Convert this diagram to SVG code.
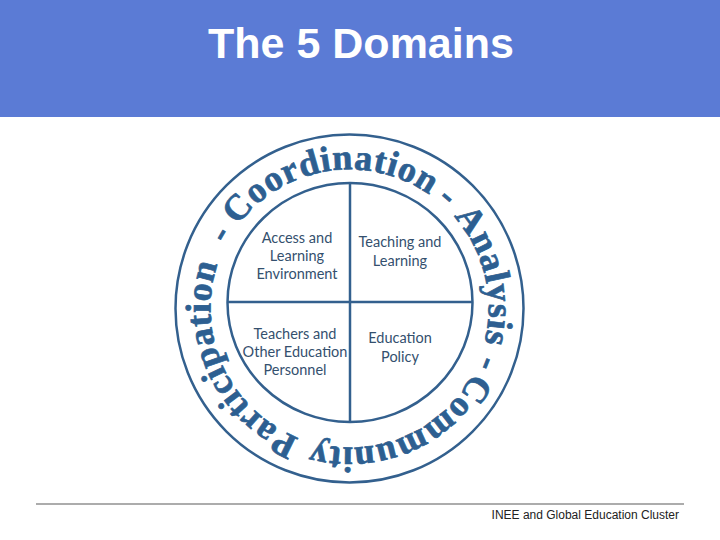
<svg xmlns="http://www.w3.org/2000/svg" xmlns:xlink="http://www.w3.org/1999/xlink" width="720" height="540" viewBox="0 0 720 540">
  <style>
    .title { font-family: "Liberation Sans", Arial, sans-serif; font-weight: bold; font-size: 43px; fill: #ffffff; }
    .ring { fill: none; stroke: #33608e; stroke-width: 2.5; }
    .div { stroke: #33608e; stroke-width: 2.5; }
    .ringtxt { font-family: "Liberation Serif", "Times New Roman", serif; font-weight: bold; font-size: 36px; fill: #2d5f91; stroke: #2d5f91; stroke-width: 0.7; letter-spacing: 0.8px; }
    .lbl { font-family: Lato, "Liberation Sans", sans-serif; font-size: 14.5px; fill: #34506e; text-anchor: middle; }
    .foot { font-family: "Liberation Sans", Arial, sans-serif; font-size: 12px; fill: #222222; }
  </style>
  <defs>
    <path id="ringPath" d="M 210.5 308.5 A 139 139 0 0 1 488.5 308.5 A 139 139 0 0 1 210.5 308.5 A 139 139 0 0 1 488.5 308.5 A 139 139 0 0 1 210.5 308.5"/>
  </defs>
  <rect id="header" x="0" y="0" width="720" height="117" fill="#5b7bd5"/>
  <text class="title" x="361" y="58" text-anchor="middle">The 5 Domains</text>

  <g id="outer-ring">
    <circle class="ring" cx="349.5" cy="308.5" r="174"/>
    <text class="ringtxt" text-anchor="middle">
      <textPath xlink:href="#ringPath" href="#ringPath" startOffset="196.5">Coordination</textPath>
    </text>
    <text class="ringtxt" text-anchor="middle">
      <textPath xlink:href="#ringPath" href="#ringPath" startOffset="318.8">-</textPath>
    </text>
    <text class="ringtxt" text-anchor="middle">
      <textPath xlink:href="#ringPath" href="#ringPath" startOffset="404">Analysis</textPath>
    </text>
    <text class="ringtxt" text-anchor="middle">
      <textPath xlink:href="#ringPath" href="#ringPath" startOffset="490">-</textPath>
    </text>
    <text class="ringtxt" text-anchor="middle">
      <textPath xlink:href="#ringPath" href="#ringPath" startOffset="598">Community</textPath>
    </text>
    <text class="ringtxt" text-anchor="middle">
      <textPath xlink:href="#ringPath" href="#ringPath" startOffset="812.7">Participation</textPath>
    </text>
    <text class="ringtxt" text-anchor="middle">
      <textPath xlink:href="#ringPath" href="#ringPath" startOffset="946">-</textPath>
    </text>
  </g>

  <g id="connectors">
    <ellipse class="ring" cx="350" cy="302.5" rx="122.5" ry="119.5"/>
    <line class="div" x1="350" y1="183" x2="350" y2="422"/>
    <line class="div" x1="227.5" y1="302" x2="472.5" y2="302"/>
  </g>

  <g id="access">
    <text class="lbl" x="297" y="243">Access and</text>
    <text class="lbl" x="297" y="261">Learning</text>
    <text class="lbl" x="297" y="279">Environment</text>
  </g>
  <g id="teaching">
    <text class="lbl" x="400" y="247">Teaching and</text>
    <text class="lbl" x="400" y="265.5">Learning</text>
  </g>
  <g id="teachers">
    <text class="lbl" x="295" y="339">Teachers and</text>
    <text class="lbl" x="295" y="357">Other Education</text>
    <text class="lbl" x="295" y="375">Personnel</text>
  </g>
  <g id="policy">
    <text class="lbl" x="400" y="343">Education</text>
    <text class="lbl" x="400" y="361.5">Policy</text>
  </g>

  <line x1="36" y1="504" x2="684" y2="504" stroke="#5a5a5a" stroke-width="1.2"/>
  <text class="foot" x="679" y="519" text-anchor="end">INEE and Global Education Cluster</text>
</svg>
